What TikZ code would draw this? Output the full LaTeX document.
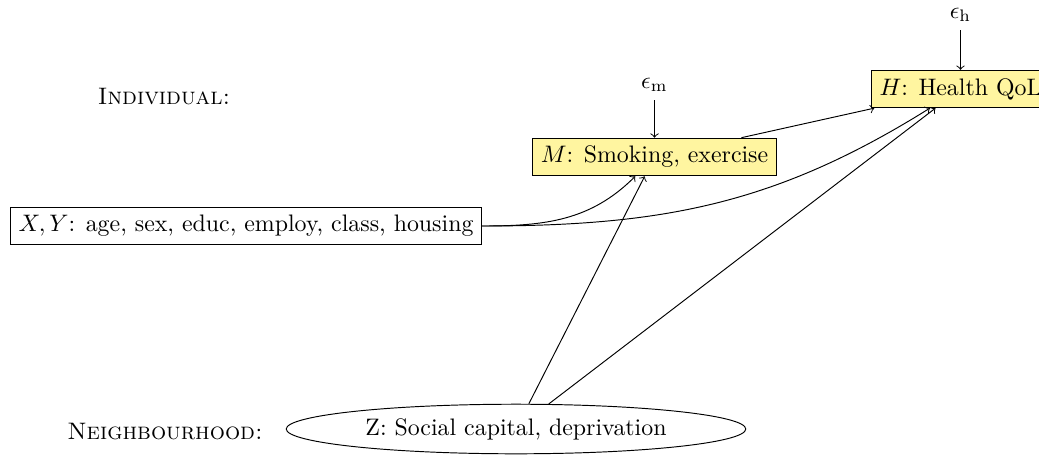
\documentclass[tikz,border=0pt]{standalone}
\usetikzlibrary{shapes.geometric,arrows}
\definecolor{boxyellow}{RGB}{255,245,160}
\begin{document}
\begin{tikzpicture}[x=0.419pt,y=-0.419pt,
  every node/.style={inner sep=3.333pt},
  level/.style={font=\scshape},
  medbox/.style={draw,fill=boxyellow,rectangle},
  plainbox/.style={draw,rectangle},
  areabox/.style={draw,ellipse,inner xsep=5pt,inner ysep=2.85pt},
  errnode/.style={},
  arr/.style={->,>=to}]
\useasboundingbox (0,0) rectangle (1039,454);
\node[level] (ind) at (164,97) {Individual:};
\node[level] (nbh) at (165,432) {Neighbourhood:};
\node[medbox] (M) at (654.5,157) {$M$: Smoking, exercise};
\node[medbox] (H) at (960.5,89) {$H$: Health QoL};
\node[plainbox] (X) at (246,226) {$X, Y$: age, sex, educ, employ, class, housing};
\node[areabox] (Z) at (516,429) {Z: Social capital, deprivation};
\node[errnode] (em) at (654.5,85) {$\epsilon_{\rm m}$};
\node[errnode] (eh) at (960.5,15) {$\epsilon_{\rm h}$};
\draw[arr] (em) -- (M);
\draw[arr] (eh) -- (H);
\draw[arr] (M) -- (H);
\draw[arr] (Z) -- (M);
\draw[arr] (Z) -- (H);
\draw[arr] (X) to[out=0,in=-135] (M);
\draw[arr] (X) to[out=0,in=-148] (H);
\end{tikzpicture}
\end{document}
